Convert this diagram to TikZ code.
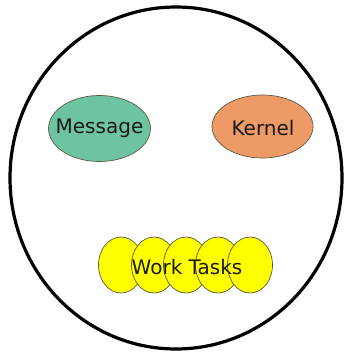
\documentclass[tikz,border=0pt]{standalone}
\usepackage{fontspec}
\setmainfont{DejaVu Sans}
\usetikzlibrary{shapes.geometric}
\definecolor{msggreen}{RGB}{110,196,160}
\definecolor{kernorange}{RGB}{238,154,102}
\definecolor{taskyellow}{RGB}{255,255,0}
\definecolor{edgegray}{RGB}{90,90,70}
\begin{document}
\begin{tikzpicture}[x=1pt,y=-1pt,
  blob/.style={ellipse, draw=edgegray, line width=0.7pt, inner sep=0pt},
  lbl/.style={font=\fontsize{20}{23}\selectfont, text=black!90}]
\useasboundingbox (0,0) rectangle (351,354);
\node[draw=black, line width=3.2pt, ellipse, minimum width=332pt, minimum height=342pt, inner sep=0pt] (world) at (176,178) {};
\node[blob, fill=msggreen, minimum width=102pt, minimum height=66pt] (msg) at (99.5,128.5) {};
\node[lbl] (msgt) at (msg.center) {Message};
\node[blob, fill=kernorange, minimum width=101pt, minimum height=63pt] (kern) at (262.5,126.5) {};
\node[lbl] (kernt) at (263,128) {Kernel};
\foreach \i/\cx in {1/121, 2/154, 3/186, 4/218, 5/250}{
  \node[blob, fill=taskyellow, minimum width=45pt, minimum height=56pt] (t\i) at (\cx,265) {};
}
\node[lbl] (tasks) at (187,267) {Work Tasks};
\end{tikzpicture}
\end{document}
